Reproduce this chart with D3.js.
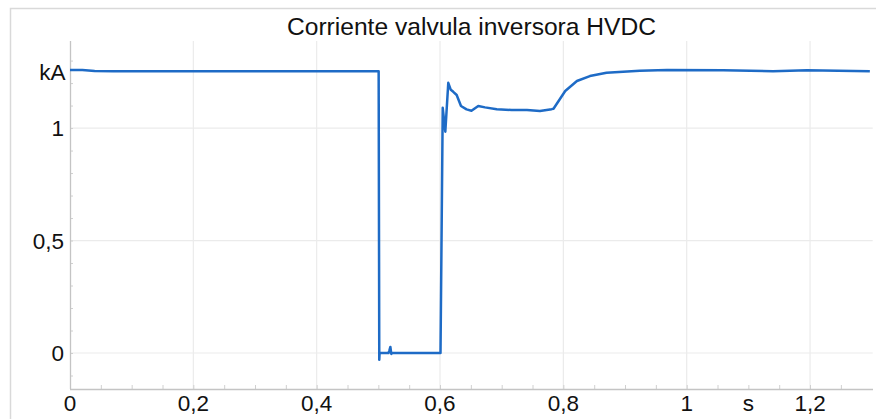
<!DOCTYPE html>
<html>
<head>
<meta charset="utf-8">
<script src="https://cdn.jsdelivr.net/npm/d3@7"></script>
<style>
  html, body { margin: 0; padding: 0; background: #fff; }
  svg text { font-family: "Liberation Sans", Arial, sans-serif; fill: #111; }
</style>
</head>
<body>
<svg id="chart" width="876" height="419"></svg>
<script>
// Inverter valve current of the HVDC link (kA) against time (s)
const title = "Corriente valvula inversora HVDC";
const timeS = [0, 0.02, 0.04, 0.07, 0.15, 0.3, 0.45, 0.4995, 0.5005, 0.5015, 0.502,
  0.5165, 0.518, 0.5195, 0.521, 0.5225, 0.6, 0.6008, 0.6044, 0.6086, 0.6134, 0.6175,
  0.6215, 0.627, 0.634, 0.643, 0.651, 0.662, 0.673, 0.692, 0.716, 0.741, 0.762, 0.781,
  0.784, 0.803, 0.822, 0.843, 0.870, 0.924, 0.968, 1.059, 1.140, 1.195, 1.297];
const currentKA = [1.258, 1.258, 1.254, 1.252, 1.252, 1.252, 1.252, 1.252, 1.252, -0.03, 0,
  0, 0.012, 0.027, -0.004, 0, 0, 0, 1.09, 0.984, 1.201, 1.17,
  1.161, 1.147, 1.098, 1.083, 1.077, 1.098, 1.092, 1.084, 1.08, 1.08, 1.076, 1.084,
  1.086, 1.165, 1.209, 1.231, 1.246, 1.255, 1.258, 1.257, 1.253, 1.257, 1.253];
const xTickValues = [0, 0.2, 0.4, 0.6, 0.8, 1, 1.2];
const xTickLabels = ["0", "0,2", "0,4", "0,6", "0,8", "1", "1,2"];
const yTickValues = [0, 0.5, 1];
const yTickLabels = ["0", "0,5", "1"];
const xUnit = "s", xUnitAt = 1.1;
const yUnit = "kA", yUnitAt = 1.25;

const svg = d3.select("#chart");
const plotLeft = 70, plotRight = 871.7, plotTop = 41, plotBottom = 389;

const x = d3.scaleLinear().domain([0, 1.3]).range([plotLeft, plotRight]);
const y = d3.scaleLinear().domain([-0.16, 1.387]).range([plotBottom, plotTop]);

// outer frame (left and top edges)
svg.append("path")
  .attr("d", `M10.5,419 V8.5 H876`)
  .attr("fill", "none").attr("stroke", "#d9d9d9").attr("stroke-width", 1.5);

// grid
const grid = svg.append("g").attr("stroke", "#ebebeb").attr("stroke-width", 1.2);
grid.selectAll(".vx").data(xTickValues.filter(d => d > 0)).join("line")
  .attr("x1", d => x(d)).attr("x2", d => x(d)).attr("y1", plotTop).attr("y2", plotBottom);
grid.selectAll(".hy").data(yTickValues).join("line")
  .attr("x1", plotLeft).attr("x2", plotRight + 1).attr("y1", d => y(d)).attr("y2", d => y(d));

// axes with inward minor ticks
const xAxis = svg.append("g").attr("transform", `translate(0,${plotBottom})`)
  .call(d3.axisTop(x).tickValues(d3.range(0.05, 1.3, 0.05)).tickSize(4).tickFormat(""));
xAxis.select(".domain").remove();
xAxis.selectAll("line").attr("stroke", "#d0d0d0");
svg.append("line").attr("x1", plotLeft).attr("x2", plotRight + 1.3)
  .attr("y1", plotBottom + 0.5).attr("y2", plotBottom + 0.5)
  .attr("stroke", "#c4c4c4").attr("stroke-width", 1.3);

const yAxis = svg.append("g").attr("transform", `translate(${plotLeft},0)`)
  .call(d3.axisRight(y).tickValues(d3.range(-0.1, 1.35, 0.1)).tickSize(3).tickFormat(""));
yAxis.select(".domain").remove();
yAxis.selectAll("line").attr("stroke", "#d0d0d0");
svg.append("line").attr("x1", plotLeft + 0.5).attr("x2", plotLeft + 0.5)
  .attr("y1", plotTop).attr("y2", plotBottom)
  .attr("stroke", "#c4c4c4").attr("stroke-width", 1.3);

// tick labels
svg.append("g").selectAll("text").data(xTickValues).join("text")
  .attr("x", d => x(d)).attr("y", 411).attr("text-anchor", "middle")
  .attr("font-size", 22.5).text((d, i) => xTickLabels[i]);
svg.append("text").attr("x", x(xUnitAt)).attr("y", 411).attr("text-anchor", "middle")
  .attr("font-size", 22.5).text(xUnit);
svg.append("g").selectAll("text").data(yTickValues).join("text")
  .attr("x", 64).attr("y", d => y(d) + 8).attr("text-anchor", "end")
  .attr("font-size", 22.5).text((d, i) => yTickLabels[i]);
svg.append("text").attr("x", 65.5).attr("y", y(yUnitAt) + 8).attr("text-anchor", "end")
  .attr("font-size", 22.5).text(yUnit);

// title
svg.append("text").attr("x", 471.5).attr("y", 35).attr("text-anchor", "middle")
  .attr("font-size", 24.6).text(title);

// current trace
const line = d3.line().x(d => x(d)).y((d, i) => y(currentKA[i]));
svg.append("path").attr("d", line(timeS))
  .attr("fill", "none").attr("stroke", "#1e6bc6").attr("stroke-width", 2.5)
  .attr("stroke-linejoin", "round");
</script>
</body>
</html>
